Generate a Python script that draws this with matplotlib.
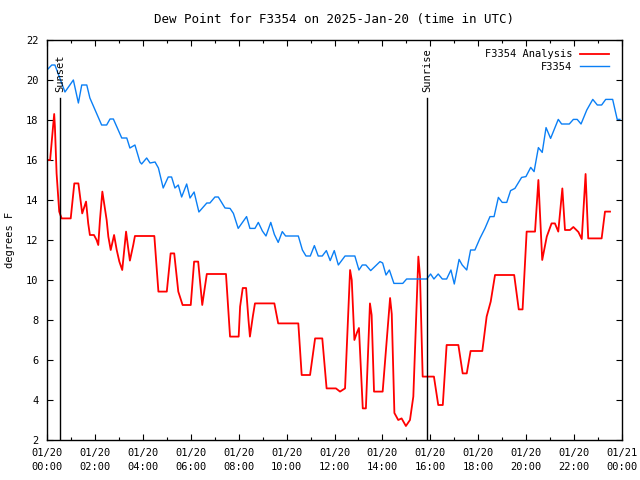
import matplotlib
matplotlib.use("Agg")
import matplotlib.pyplot as plt
from matplotlib.ticker import MultipleLocator

# hours after 2025-01-20 00:00 UTC
analysis_hours = [0.0, 0.13, 0.24, 0.30, 0.33, 0.40, 0.51, 0.61, 0.99, 1.14, 1.31, 1.47,
                  1.63, 1.72, 1.79, 1.96, 2.07, 2.14, 2.21, 2.31, 2.49, 2.56, 2.66, 2.80,
                  2.91, 3.02, 3.14, 3.30, 3.39, 3.46, 3.60, 3.67, 4.48, 4.65, 5.00, 5.16,
                  5.31, 5.48, 5.66, 6.00, 6.14, 6.31, 6.48, 6.67, 7.47, 7.64, 8.00, 8.06,
                  8.17, 8.31, 8.41, 8.47, 8.59, 8.68, 9.49, 9.65, 10.49, 10.63, 10.98, 11.19,
                  11.49, 11.67, 12.06, 12.23, 12.44, 12.65, 12.72, 12.83, 12.93, 13.02, 13.18, 13.31,
                  13.48, 13.55, 13.65, 14.01, 14.32, 14.39, 14.50, 14.66, 14.80, 14.98, 15.15, 15.29,
                  15.50, 15.57, 15.68, 16.15, 16.33, 16.52, 16.68, 17.17, 17.35, 17.52, 17.68, 18.17,
                  18.35, 18.52, 18.70, 19.50, 19.69, 19.85, 20.02, 20.37, 20.51, 20.67, 20.86, 21.06,
                  21.20, 21.34, 21.51, 21.62, 21.83, 21.97, 22.18, 22.32, 22.48, 22.59, 23.15, 23.29,
                  23.50]
analysis_dewpt = [16.0, 16.0, 17.5, 18.3, 17.67, 15.33, 13.42, 13.08, 13.08, 14.83, 14.83, 13.33,
                  13.92, 12.83, 12.25, 12.25, 12.0, 11.75, 13.0, 14.42, 13.0, 12.17, 11.5, 12.25,
                  11.5, 10.92, 10.5, 12.42, 11.58, 10.97, 11.75, 12.2, 12.2, 9.42, 9.42, 11.33,
                  11.33, 9.42, 8.75, 8.75, 10.92, 10.92, 8.75, 10.3, 10.3, 7.17, 7.17, 8.67,
                  9.6, 9.6, 8.0, 7.17, 8.17, 8.83, 8.83, 7.83, 7.83, 5.25, 5.25, 7.08,
                  7.08, 4.58, 4.58, 4.42, 4.58, 10.5, 10.0, 7.0, 7.35, 7.6, 3.58, 3.58,
                  8.83, 8.25, 4.42, 4.42, 9.1, 8.3, 3.35, 3.0, 3.08, 2.7, 3.0, 4.17,
                  11.17, 10.17, 5.17, 5.17, 3.75, 3.75, 6.75, 6.75, 5.33, 5.33, 6.45, 6.45,
                  8.17, 8.92, 10.25, 10.25, 8.53, 8.53, 12.42, 12.42, 15.0, 11.0, 12.17, 12.83,
                  12.83, 12.42, 14.58, 12.5, 12.5, 12.65, 12.4, 12.05, 15.3, 12.08, 12.08, 13.42,
                  13.42]

station_hours = [0.0, 0.2, 0.33, 0.75, 1.10, 1.31, 1.45, 1.66, 1.79, 2.28, 2.49, 2.63,
                 2.77, 3.12, 3.33, 3.46, 3.67, 3.88, 3.95, 4.16, 4.30, 4.51, 4.65, 4.85,
                 5.06, 5.20, 5.34, 5.48, 5.62, 5.83, 5.97, 6.14, 6.34, 6.67, 6.80, 7.01,
                 7.15, 7.43, 7.64, 7.78, 7.98, 8.33, 8.47, 8.68, 8.82, 8.99, 9.14, 9.34,
                 9.49, 9.65, 9.82, 9.96, 10.49, 10.66, 10.81, 10.99, 11.16, 11.32, 11.49, 11.66,
                 11.82, 11.99, 12.16, 12.44, 12.85, 13.02, 13.16, 13.31, 13.51, 13.90, 14.01, 14.15,
                 14.29, 14.48, 14.85, 15.01, 15.85, 16.01, 16.15, 16.33, 16.50, 16.68, 16.86, 17.00,
                 17.20, 17.33, 17.52, 17.68, 17.86, 18.07, 18.28, 18.49, 18.66, 18.84, 19.00, 19.19,
                 19.35, 19.53, 19.81, 19.99, 20.19, 20.33, 20.51, 20.67, 20.83, 21.02, 21.34, 21.48,
                 21.80, 21.97, 22.13, 22.29, 22.53, 22.78, 22.97, 23.15, 23.32, 23.61, 23.71, 23.80,
                 23.91]
station_dewpt = [20.5, 20.75, 20.75, 19.4, 20.0, 18.85, 19.75, 19.75, 19.1, 17.75, 17.75, 18.05,
                 18.05, 17.1, 17.1, 16.6, 16.75, 15.9, 15.8, 16.1, 15.85, 15.9, 15.6, 14.6,
                 15.15, 15.15, 14.6, 14.75, 14.15, 14.8, 14.1, 14.4, 13.4, 13.85, 13.85, 14.15,
                 14.15, 13.6, 13.58, 13.33, 12.58, 13.17, 12.58, 12.58, 12.88, 12.45, 12.2, 12.88,
                 12.28, 11.88, 12.42, 12.2, 12.2, 11.5, 11.2, 11.2, 11.72, 11.2, 11.2, 11.47,
                 10.97, 11.47, 10.75, 11.2, 11.2, 10.5, 10.75, 10.75, 10.47, 10.92, 10.85, 10.25,
                 10.5, 9.83, 9.83, 10.05, 10.05, 10.3, 10.05, 10.3, 10.05, 10.05, 10.5, 9.8,
                 11.03, 10.75, 10.5, 11.5, 11.5, 12.08, 12.58, 13.17, 13.17, 14.13, 13.88, 13.88,
                 14.47, 14.58, 15.13, 15.17, 15.63, 15.42, 16.62, 16.38, 17.62, 17.08, 18.03, 17.8,
                 17.8, 18.03, 18.03, 17.8, 18.5, 19.03, 18.75, 18.75, 19.03, 19.03, 18.5, 18.03,
                 18.03]

sunset_hour = 0.54
sunrise_hour = 15.87
tick_labels = ["01/20\n%02d:00" % h for h in range(0, 24, 2)] + ["01/21\n00:00"]

plt.rcParams['font.family'] = ['DejaVu Sans Mono']
plt.rcParams['font.size'] = 7.5

fig = plt.figure(figsize=(6.4, 4.8), dpi=100)
ax = fig.add_axes([47 / 640, 1 - 440 / 480, 575 / 640, 400 / 480])

ax.plot(analysis_hours, analysis_dewpt, color='#ff0000', lw=1.3, label='F3354 Analysis')
ax.plot(station_hours, station_dewpt, color='#0a7ff5', lw=1.0, label='F3354')

for h, name in [(sunset_hour, 'Sunset'), (sunrise_hour, 'Sunrise')]:
    ax.plot([h, h], [2, 19.1], color='black', lw=1.0)
    ax.text(h, 19.4, name, rotation=90, ha='center', va='bottom')

ax.set_xlim(0, 24)
ax.set_ylim(2, 22)
ax.set_xticks(range(0, 25, 2))
ax.set_xticklabels(tick_labels, linespacing=1.45)
ax.xaxis.set_minor_locator(MultipleLocator(1))
ax.yaxis.set_major_locator(MultipleLocator(2))
ax.tick_params(which='both', direction='in', top=True, right=True, color='black')
ax.tick_params(which='major', length=4, width=0.8)
ax.tick_params(which='minor', length=2, width=0.8)
ax.tick_params(axis='x', pad=6)
ax.tick_params(axis='y', pad=6)
for s in ax.spines.values():
    s.set_linewidth(1.0)

ax.set_ylabel('degrees F', labelpad=8)
ax.set_title('Dew Point for F3354 on 2025-Jan-20 (time in UTC)', pad=12.5)

ax.legend(loc='upper right', bbox_to_anchor=(0.99, 0.995), frameon=False,
          markerfirst=False, handlelength=2.8, handletextpad=0.7,
          labelspacing=0.25, borderaxespad=0.3)

fig.savefig('out.png', dpi=100)
